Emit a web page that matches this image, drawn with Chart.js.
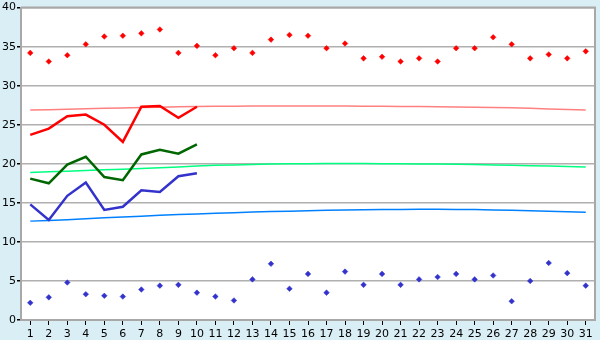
<!DOCTYPE html>
<html>
<head>
<meta charset="utf-8">
<script src="https://cdn.jsdelivr.net/npm/chart.js@4.4.1/dist/chart.umd.min.js"></script>
<style>
  html, body { margin: 0; padding: 0; background: #daeef5; }
</style>
</head>
<body>
<canvas id="chart" width="600" height="340"></canvas>
<script>
// ================================
// DATA
// ================================

const days = ['1', '2', '3', '4', '5', '6', '7', '8', '9', '10', '11', '12', '13', '14', '15', '16',
    '17', '18', '19', '20', '21', '22', '23', '24', '25', '26', '27', '28', '29', '30', '31'];

const yTicks = [0, 5, 10, 15, 20, 25, 30, 35, 40];

// daily maximums (red points)
const highPoints = [34.2, 33.1, 33.9, 35.3, 36.3, 36.4, 36.7, 37.2, 34.2, 35.1, 33.9, 34.8, 34.2, 35.9, 36.5,
    36.4, 34.8, 35.4, 33.5, 33.7, 33.1, 33.5, 33.1, 34.8, 34.8, 36.2, 35.3, 33.5, 34.0, 33.5, 34.4];

// daily minimums (blue points)
const lowPoints = [2.2, 2.9, 4.8, 3.3, 3.1, 3.0, 3.9, 4.4, 4.5, 3.5, 3.0, 2.5, 5.2, 7.2, 4.0,
    5.9, 3.5, 6.2, 4.5, 5.9, 4.5, 5.2, 5.5, 5.9, 5.2, 5.7, 2.4, 5.0, 7.3, 6.0, 4.4];

// first ten days
const highLine = [23.7, 24.5, 26.1, 26.3, 25.0, 22.8, 27.3, 27.4, 25.9, 27.3];
const meanLine = [18.1, 17.5, 19.9, 20.9, 18.3, 17.9, 21.2, 21.8, 21.3, 22.5];
const lowLine = [14.8, 12.8, 15.9, 17.6, 14.1, 14.5, 16.6, 16.4, 18.4, 18.8];

// long-term averages
const highNormal = [26.88, 26.93, 27.0, 27.05, 27.1, 27.15, 27.2, 27.25, 27.3, 27.33, 27.36, 27.38, 27.39, 27.4, 27.4,
    27.4, 27.4, 27.39, 27.38, 27.37, 27.35, 27.33, 27.31, 27.28, 27.25, 27.21, 27.17, 27.1, 27.03, 26.96, 26.88];
const meanNormal = [18.88, 18.97, 19.06, 19.15, 19.23, 19.31, 19.39, 19.5, 19.6, 19.72, 19.8, 19.86, 19.92, 19.97, 20.0,
    20.02, 20.03, 20.03, 20.03, 20.02, 20.0, 19.98, 19.96, 19.94, 19.9, 19.86, 19.81, 19.76, 19.71, 19.66, 19.6];
const lowNormal = [12.66, 12.75, 12.85, 12.98, 13.1, 13.2, 13.3, 13.4, 13.5, 13.58, 13.66, 13.74, 13.82, 13.88, 13.94,
    14.0, 14.04, 14.08, 14.11, 14.14, 14.16, 14.17, 14.17, 14.16, 14.14, 14.1, 14.06, 14.0, 13.94, 13.87, 13.8];

// ================================
// PLOT BACKGROUND + FRAME
// ================================

const plotFrame = {
    id: 'plotFrame',
    beforeDraw(chart) {
        const { ctx, chartArea: a } = chart;
        ctx.save();
        ctx.fillStyle = '#daeef5';
        ctx.fillRect(0, 0, chart.width, chart.height);
        ctx.fillStyle = '#ffffff';
        ctx.fillRect(a.left, a.top, a.right - a.left, a.bottom - a.top);
        ctx.restore();
    },
    beforeDatasetsDraw(chart) {
        const { ctx, chartArea: a } = chart;
        ctx.save();
        ctx.strokeStyle = '#a8a8a8';
        ctx.lineWidth = 2;
        ctx.beginPath();
        ctx.moveTo(a.left, a.top);
        ctx.lineTo(a.right, a.top);
        ctx.lineTo(a.right, a.bottom);
        ctx.stroke();
        ctx.restore();
    }
};

function trend(data, color) {
    return {
        data: data,
        borderColor: color,
        borderWidth: 1.5,
        pointRadius: 0,
        tension: 0,
        order: 3
    };
}

function dailyLine(data, color) {
    return {
        data: data,
        borderColor: color,
        borderWidth: 2.5,
        pointRadius: 0,
        tension: 0,
        order: 2
    };
}

function marks(data, color) {
    return {
        data: data,
        showLine: false,
        pointStyle: 'rectRot',
        pointRadius: 2.8,
        pointBackgroundColor: color,
        pointBorderColor: color,
        pointBorderWidth: 0.5,
        order: 1
    };
}

const tickFont = { family: 'DejaVu Sans', size: 11 };

new Chart(document.getElementById('chart'), {
    type: 'line',
    data: {
        labels: days,
        datasets: [
            trend(highNormal, '#ff8080'),
            trend(meanNormal, '#00ff80'),
            trend(lowNormal, '#0080ff'),
            dailyLine(highLine, '#ff0000'),
            dailyLine(meanLine, '#006600'),
            dailyLine(lowLine, '#3333cc'),
            marks(highPoints, '#ff0000'),
            marks(lowPoints, '#3333cc')
        ]
    },
    options: {
        responsive: false,
        animation: false,
        layout: { padding: { top: 5, right: 5, left: 0, bottom: 0 } },
        plugins: {
            legend: { display: false },
            tooltip: { enabled: false }
        },
        scales: {
            x: {
                offset: true,
                afterFit: s => { s.height = 20; },
                grid: {
                    drawOnChartArea: false,
                    drawTicks: true,
                    tickLength: 5,
                    color: '#000000'
                },
                border: { color: '#a8a8a8', width: 2 },
                ticks: {
                    color: '#000000',
                    font: tickFont,
                    padding: 3,
                    maxRotation: 0,
                    autoSkip: false
                }
            },
            y: {
                min: yTicks[0],
                max: yTicks[yTicks.length - 1],
                afterFit: s => { s.width = 21; },
                afterBuildTicks: s => { s.ticks = yTicks.map(v => ({ value: v })); },
                grid: {
                    color: '#b0b0b0',
                    lineWidth: 1.5,
                    tickLength: 4,
                    tickColor: '#000000'
                },
                border: { color: '#a8a8a8', width: 2 },
                ticks: {
                    color: '#000000',
                    font: tickFont,
                    padding: 1
                }
            }
        }
    },
    plugins: [plotFrame]
});
</script>
</body>
</html>
